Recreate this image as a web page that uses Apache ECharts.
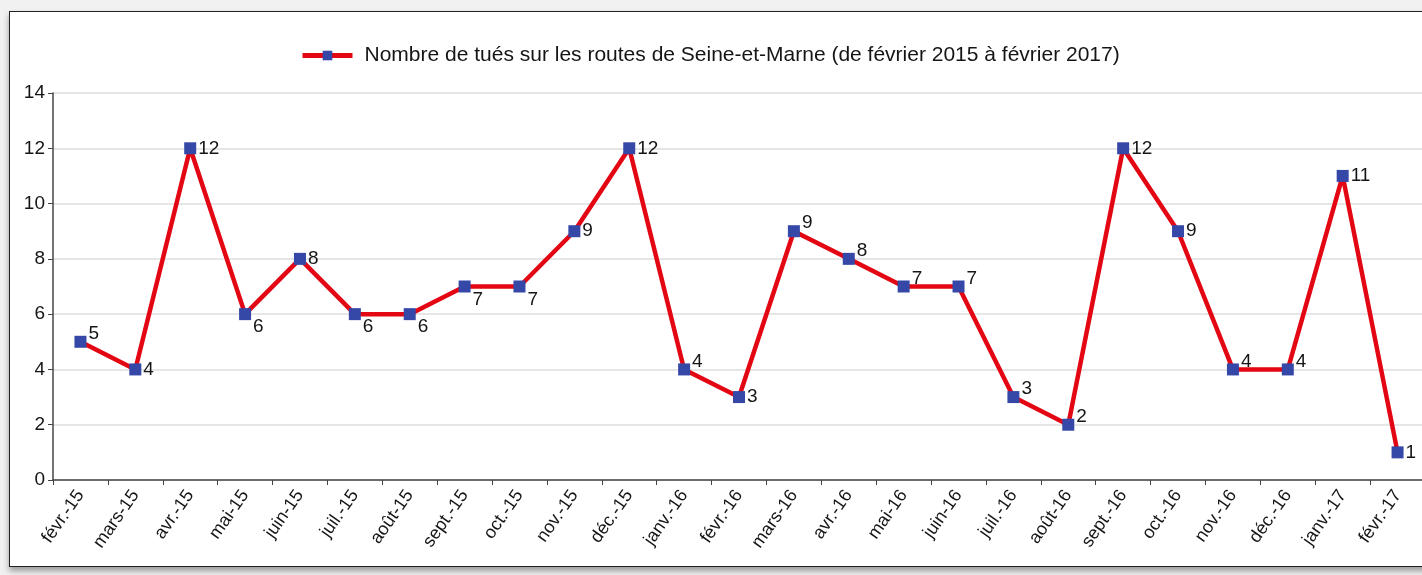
<!DOCTYPE html>
<html lang="fr">
<head>
  <meta charset="UTF-8">
  <title>Tués sur les routes de Seine-et-Marne</title>
  <script src="https://cdn.jsdelivr.net/npm/echarts@6.0.0/dist/echarts.min.js"></script>
  <style>
    html, body { margin: 0; padding: 0; overflow: hidden; background: #f1f1f1; }
    #frame {
      position: absolute; left: 9px; top: 11px; width: 1500px; height: 554px;
      background: #fff; border: 1.5px solid #222;
      box-shadow: 0 4px 6px #9a9a9a;
    }
    #main { position: absolute; left: 0; top: 0; width: 1430px; height: 575px; }
  </style>
</head>
<body>
  <div id="frame"></div>
  <div id="main"></div>

  <script type="text/javascript">
    const months = ['févr.-15', 'mars-15', 'avr.-15', 'mai-15', 'juin-15', 'juil.-15', 'août-15',
      'sept.-15', 'oct.-15', 'nov.-15', 'déc.-15', 'janv.-16', 'févr.-16', 'mars-16', 'avr.-16',
      'mai-16', 'juin-16', 'juil.-16', 'août-16', 'sept.-16', 'oct.-16', 'nov.-16', 'déc.-16',
      'janv.-17', 'févr.-17'];
    const tues = [5, 4, 12, 6, 8, 6, 6, 7, 7, 9, 12, 4, 3, 9, 8, 7, 7, 3, 2, 12, 9, 4, 4, 11, 1];
    // where each value label sits next to its marker: r = right, rt = up-right, rb = down-right
    const labelSide = ['rt', 'r', 'r', 'rb', 'r', 'rb', 'rb', 'rb', 'rb', 'r', 'r', 'rt', 'r',
      'rt', 'rt', 'rt', 'rt', 'rt', 'rt', 'r', 'r', 'rt', 'rt', 'r', 'r'];
    const yTicks = [0, 2, 4, 6, 8, 10, 12, 14];
    const seriesName = 'Nombre de tués sur les routes de Seine-et-Marne (de février 2015 à février 2017)';

    const font = 'Arial, "Liberation Sans", sans-serif';
    const offsets = { r: [0, 0], rt: [0, -8], rb: [0, 13] };

    let myChart = echarts.init(document.getElementById('main'));

    let options = {
      animation: false,
      textStyle: { fontFamily: font },
      legend: {
        left: 295, top: 40,
        itemWidth: 50, itemHeight: 12, itemGap: 10,
        textStyle: { fontSize: 21, color: '#151515', fontFamily: font, padding: [0, 0, 0, 7] },
        data: [{ name: seriesName, itemStyle: { color: '#3548a8' }, lineStyle: { color: '#e30613', width: 5 } }]
      },
      grid: { left: 53, right: 5, top: 93, bottom: 95 },
      xAxis: {
        type: 'category',
        data: months,
        boundaryGap: true,
        axisLine: { lineStyle: { color: '#444', width: 1.5 } },
        axisTick: { show: true, length: 5, lineStyle: { color: '#444' } },
        axisLabel: { rotate: 55, fontSize: 18, color: '#151515', margin: 12, interval: 0 }
      },
      yAxis: {
        type: 'value',
        min: yTicks[0], max: yTicks[yTicks.length - 1], interval: 2,
        axisLine: { show: true, lineStyle: { color: '#444', width: 1.5 } },
        axisTick: { show: true, length: 5, lineStyle: { color: '#444' } },
        axisLabel: { fontSize: 19, color: '#151515', margin: 8 },
        splitLine: { lineStyle: { color: '#dedede', width: 1.5 } }
      },
      series: [{
        name: seriesName,
        type: 'line',
        data: tues.map((v, i) => ({
          value: v,
          label: { offset: offsets[labelSide[i]] }
        })),
        symbol: 'rect',
        symbolSize: 12,
        lineStyle: { color: '#e30613', width: 4.5 },
        itemStyle: { color: '#3548a8' },
        label: {
          show: true, position: 'right', distance: 2,
          fontSize: 19, color: '#151515'
        },
        z: 3
      }]
    };

    myChart.setOption(options);
  </script>
</body>
</html>
